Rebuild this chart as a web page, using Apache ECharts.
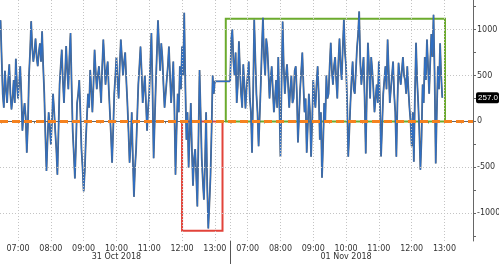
<!DOCTYPE html>
<html><head><meta charset="utf-8">
<script src="https://cdn.jsdelivr.net/npm/echarts@6/dist/echarts.min.js"></script>
<style>html,body{margin:0;padding:0;background:#fff}#c{width:499px;height:264px}</style>
</head><body><div id="c"></div>
<script>
// ---- data ----
const stepMinutes = 2;
const day1Start = '06:28';
const day1Values = [
 1100,700,300,150,550,350,200,450,620,300,130,250,450,200,680,400,250,420,600,300,
 -100,80,200,50,-340,-50,500,750,1090,800,650,750,900,700,600,750,850,650,980,600,
 300,-150,-540,-200,100,-50,-250,0,300,120,-100,-300,-580,-100,400,600,780,450,200,500,
 820,550,350,700,960,400,-100,-350,-620,-250,200,300,450,100,-300,-500,-760,-550,-200,50,
 300,150,560,350,100,400,780,550,350,500,600,400,200,600,890,650,400,550,650,350,
 100,-150,-450,-100,300,500,700,450,250,600,890,700,500,650,750,450,200,-100,-450,-250,
 100,-400,-820,-500,-300,50,400,600,815,550,200,350,500,200,-100,150,300,650,960,350,
 -400,0,400,750,1100,800,550,850,700,400,150,300,450,600,815,500,200,400,650,150,
 -580,-100,300,100,600,350,815,500,1180,400,-200,100,-500,-150,200,-300,-700,-400,-300,-600,
 -925,-200,560,100,-400,-650,-850,-450,100,-700,-1163,-900,-600,-100,500,300,435];
const day2Start = '06:28';
const day2Values = [
 435,900,1000,650,500,750,200,400,870,550,300,150,620,400,140,350,500,650,250,100,
 -340,300,1105,700,300,100,-270,50,400,800,1127,700,500,900,800,550,250,450,600,350,
 100,250,450,150,700,200,-385,400,1087,600,300,500,620,400,150,350,500,200,250,550,
 600,300,-230,50,350,550,750,400,100,250,-340,-50,300,100,-385,0,450,250,150,400,
 600,300,-200,100,-612,-250,200,0,500,250,300,600,855,550,400,600,700,450,250,650,
 900,600,450,800,1105,750,600,200,-385,-100,200,450,650,350,300,550,800,950,1196,650,
 400,550,700,250,-348,300,855,600,250,700,550,350,100,250,400,200,650,200,-380,-50,
 300,450,600,350,890,550,200,350,500,650,300,100,-385,200,637,500,400,550,700,500,
 450,300,600,350,150,0,-270,100,-438,300,855,450,200,-100,-525,-200,400,200,700,450,
 890,600,300,650,950,700,1160,500,-456,100,600,350,850,500,257];
const lastValue = 257;
const hourTicks = ['07:00','08:00','09:00','10:00','11:00','12:00','13:00'];
const dayLabels = ['31 Oct 2018','01 Nov 2018'];
const yLabels = [-1000,-500,0,500,1000];
const yMinorTicks = [-1250,-1000,-750,-500,-250,0,250,500,750,1000,1250];
const sessionBreak = '06:28';           // start of day 2 session
const redBox = {from:'12:00', to:'13:14', day:1, top:0, bottom:-1188};
const greenBox = {from:'06:20', to:'13:01', day:2, top:1116, bottom:0};

// ---- time -> compressed axis (hours since 06:00 day 1, day 2 shifted by 7) ----
function tx(t, day){ const [h,m]=t.split(':').map(Number); return h + m/60 - 6 + (day===2?7:0); }
function series(start, vals, day){
  const s = tx(start, day);
  return vals.map((v,i)=>[s + i*stepMinutes/60, v]);
}
const data = series(day1Start, day1Values, 1).concat(series(day2Start, day2Values, 2));
const hourPos = hourTicks.map(t=>tx(t,1)).concat(hourTicks.map(t=>tx(t,2)));
const halfPos = hourPos.map(v=>v-0.5).concat([hourPos[hourPos.length-1]+0.5]);
const breakPos = tx(sessionBreak,2) - 0.01;
const dayPos = [tx('10:00',1), tx('10:00',2)];
const xMin = 0.45, xMax = 14.87;

const font = 'DejaVu Sans';
const grid = {color:'#c4c4c4', type:[1,2], width:1};
const chart = echarts.init(document.getElementById('c'));
chart.setOption({
  animation:false,
  grid:{left:0, right:26, top:0, bottom:23, containLabel:false, outerBoundsMode:'none'},
  xAxis:[{
    type:'value', min:xMin, max:xMax, position:'bottom',
    axisLine:{show:true, lineStyle:{color:'#666', width:1}},
    axisTick:{show:true, customValues:halfPos, length:2, lineStyle:{color:'#666'}},
    axisLabel:{customValues:hourPos, margin:4, fontFamily:font, fontSize:8, color:'#333',
      formatter:v=>{ const h = v<7.5 ? v+6 : v-1; return String(Math.round(h)).padStart(2,'0')+':00'; }},
    splitLine:{show:false}
  },{
    type:'value', min:xMin, max:xMax, position:'bottom',
    axisLine:{show:false},
    axisTick:{show:true, customValues:[breakPos], length:23, lineStyle:{color:'#555', width:1}},
    axisLabel:{customValues:dayPos, margin:12, fontFamily:font, fontSize:8, color:'#333',
      formatter:v=> v<7.5 ? dayLabels[0] : dayLabels[1]},
    splitLine:{show:false}
  }],
  yAxis:{
    type:'value', position:'right', min:-1300, max:1320,
    axisLine:{show:true, lineStyle:{color:'#666'}},
    axisTick:{show:true, customValues:yMinorTicks, length:3, lineStyle:{color:'#666'}},
    axisLabel:{customValues:yLabels, margin:4, fontFamily:font, fontSize:8, color:'#333',
      formatter:v=>String(v)},
    splitLine:{show:false}
  },
  series:[
    {type:'line', data:[], silent:true,
     markLine:{symbol:'none', silent:true, label:{show:false}, lineStyle:grid,
       data: yLabels.filter(v=>v!==0).map(v=>({yAxis:v}))
         .concat(hourPos.map(v=>({xAxis:v}))).concat([{xAxis:breakPos}])}},
    {type:'line', data:data, symbol:'none', lineStyle:{color:'#5f656c', width:1.8}, z:3},
    {type:'line', data:data, symbol:'none', lineStyle:{color:'#2f6fc4', width:1.1}, z:4},
    {type:'line', data:[], z:6, silent:true, clip:false,
     markLine:{symbol:'none', silent:true,
       data:[
         {yAxis:0, lineStyle:{color:'#f5821f', width:3, type:[8,4]}, label:{show:false}}
       ]},
     markArea:{silent:true, data:[
       [{xAxis:tx(redBox.from,redBox.day), yAxis:redBox.top, itemStyle:{color:'rgba(0,0,0,0)', borderColor:'#e2433a', borderWidth:2}},
        {xAxis:tx(redBox.to,redBox.day), yAxis:redBox.bottom}],
       [{xAxis:tx(greenBox.from,greenBox.day), yAxis:greenBox.top, itemStyle:{color:'rgba(0,0,0,0)', borderColor:'#6cab2e', borderWidth:2}},
        {xAxis:tx(greenBox.to,greenBox.day), yAxis:greenBox.bottom}]
     ]}},
    {type:'line', data:[], z:7, silent:true, clip:false,
     markLine:{symbol:'none', silent:true,
       lineStyle:{color:'rgba(0,0,0,0)', width:1, type:'solid'},
       label:{show:true, position:'end', distance:3, formatter:lastValue.toFixed(1),
         backgroundColor:'#000', color:'#fff', fontFamily:'Liberation Sans', fontSize:8,
         padding:[2,1,1,2], borderRadius:2},
       data:[{yAxis:lastValue}]}}
  ]
});
</script></body></html>
